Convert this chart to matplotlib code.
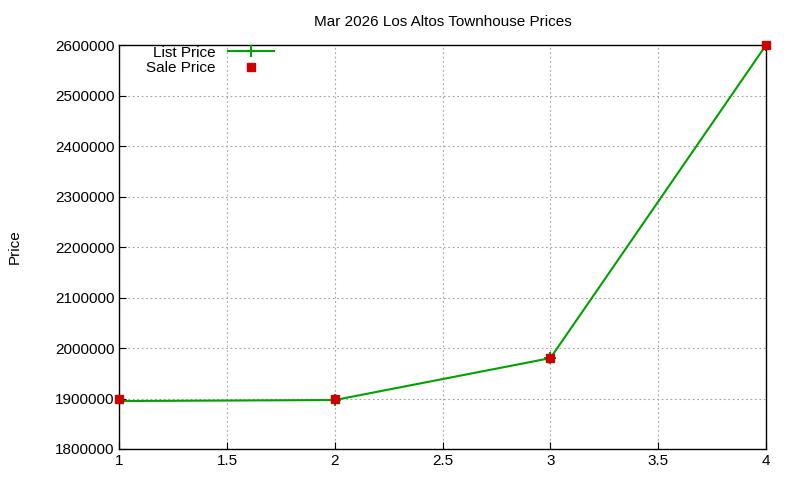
import matplotlib
matplotlib.use("Agg")
import matplotlib.pyplot as plt

plt.rcParams['font.family'] = ['Liberation Sans', 'DejaVu Sans']

x = [1, 2, 3, 4]
list_price = [1895000, 1897000, 1980000, 2600000]
sale_price = [1900000, 1900000, 1980000, 2600000]
xticks = [1, 1.5, 2, 2.5, 3, 3.5, 4]
yticks = list(range(1800000, 2600001, 100000))

fig = plt.figure(figsize=(8, 4.8), dpi=100)
ax = fig.add_axes([0.149, 0.0646, 0.8085, 0.8414])
ax.plot(x, list_price, color='#00a000', lw=1.5, marker='+', ms=8, mew=1.5, label='List Price')
ax.plot(x, sale_price, ls='none', marker='s', color='#cc0000', ms=5.5, label='Sale Price', clip_on=False, zorder=5)
ax.set_xlim(1, 4)
ax.set_ylim(1800000, 2600000)
ax.set_xticks(xticks)
ax.set_xticklabels([f"{t:g}" for t in xticks])
ax.set_yticks(yticks)
ax.set_yticklabels([str(t) for t in yticks])
ax.tick_params(labelsize=11, direction='in', length=5)
ax.grid(True, color='#a0a0a0', ls=(0, (1.5, 2.5)), lw=0.8)
ax.set_ylabel('Price', fontsize=11, labelpad=24)
ax.set_title('Mar 2026 Los Altos Townhouse Prices', fontsize=11, pad=14)
ax.legend(loc='upper left', markerfirst=False, frameon=False, fontsize=11,
          bbox_to_anchor=(0.025, 1.025), handlelength=3, borderpad=0.2, labelspacing=0.1)
for s in ax.spines.values():
    s.set_linewidth(1)
fig.savefig('out.png', dpi=100)
